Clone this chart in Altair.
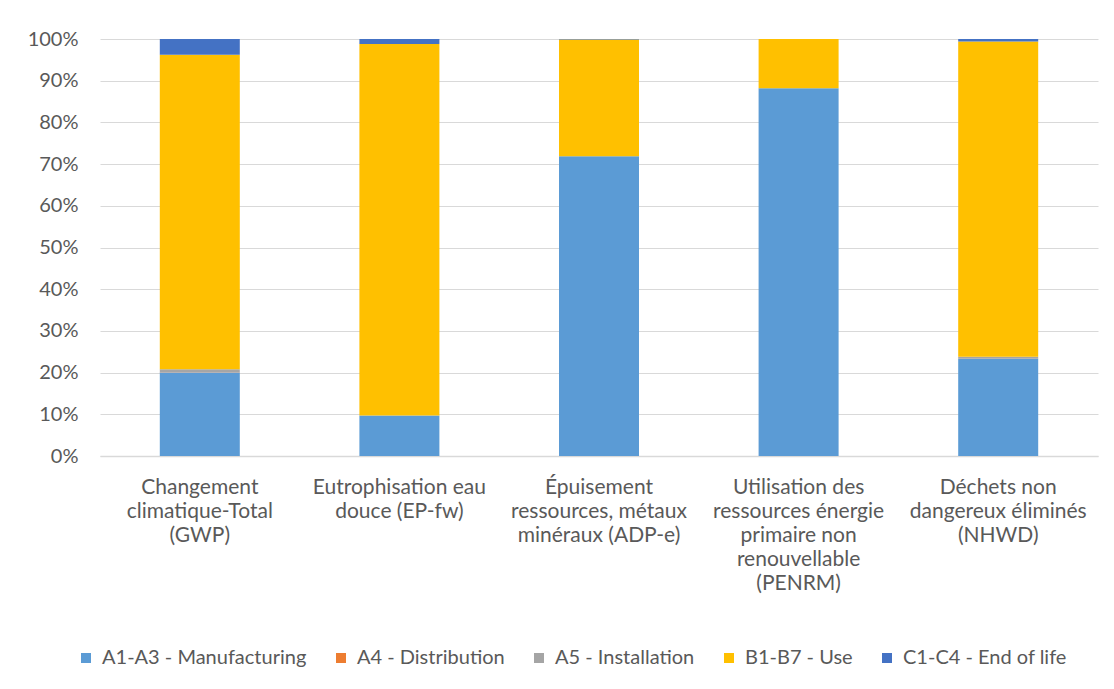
import altair as alt
import pandas as pd

categories = [
    "Changement|climatique-Total|(GWP)",
    "Eutrophisation eau|douce (EP-fw)",
    "Épuisement|ressources, métaux|minéraux (ADP-e)",
    "Utilisation des|ressources énergie|primaire non|renouvellable|(PENRM)",
    "Déchets non|dangereux éliminés|(NHWD)",
]
stages = [
    "A1-A3 - Manufacturing",
    "A4 - Distribution",
    "A5 - Installation",
    "B1-B7 - Use",
    "C1-C4 - End of life",
]
colors = ["#5B9BD5", "#ED7D31", "#A5A5A5", "#FFC000", "#4472C4"]
y_ticks = [0.0, 0.1, 0.2, 0.3, 0.4, 0.5, 0.6, 0.7, 0.8, 0.9, 1.0]

manufacturing = [20.0, 9.7, 71.9, 88.2, 23.3]
distribution = [0.1, 0.0, 0.0, 0.0, 0.0]
installation = [0.7, 0.0, 0.0, 0.0, 0.5]
use = [75.4, 89.1, 28.0, 11.8, 75.6]
end_of_life = [3.8, 1.2, 0.1, 0.0, 0.6]

series = [manufacturing, distribution, installation, use, end_of_life]
rows = []
for si, (stage, vals) in enumerate(zip(stages, series)):
    for ci, cat in enumerate(categories):
        rows.append({"cat": cat, "stage": stage, "idx": si, "value": vals[ci]})
df = pd.DataFrame(rows)

FONT = "Lato"
TXT = "#595959"

chart = alt.Chart(df).mark_bar(size=80).encode(
    x=alt.X("cat:N", sort=categories, title=None,
            axis=alt.Axis(labelAngle=0, labelExpr="split(datum.label, '|')",
                          labelLineHeight=24, labelPadding=20, ticks=False,
                          domainColor="#D9D9D9", domainWidth=1.5, labelFontSize=21,
                          labelColor=TXT, labelFont=FONT, labelLimit=400)),
    y=alt.Y("value:Q", stack="normalize", title=None,
            scale=alt.Scale(domain=[0, 1], nice=False),
            axis=alt.Axis(format=".0%", values=y_ticks, labelOverlap=False,
                          domain=False, ticks=False, gridColor="#D9D9D9",
                          labelFontSize=20, labelColor=TXT, labelFont=FONT,
                          labelPadding=22)),
    color=alt.Color("stage:N", sort=stages,
                    scale=alt.Scale(domain=stages, range=colors),
                    legend=alt.Legend(title=None, orient="none", direction="horizontal",
                                      legendX=-24, legendY=609, symbolType="square",
                                      symbolSize=100, symbolStrokeWidth=0,
                                      labelFontSize=20, labelColor=TXT, labelLimit=400,
                                      labelFont=FONT, columnPadding=24, labelOffset=6)),
    order=alt.Order("idx:Q", sort="ascending"),
).properties(
    width=998, height=417,
    autosize=alt.AutoSizeParams(type="none"),
    padding={"left": 92, "top": 31, "right": 8, "bottom": 225},
).configure_view(stroke=None).configure_scale(bandPaddingInner=0.6, bandPaddingOuter=0.3)

chart.save("out.html", embed_options={"renderer": "svg", "actions": False})
